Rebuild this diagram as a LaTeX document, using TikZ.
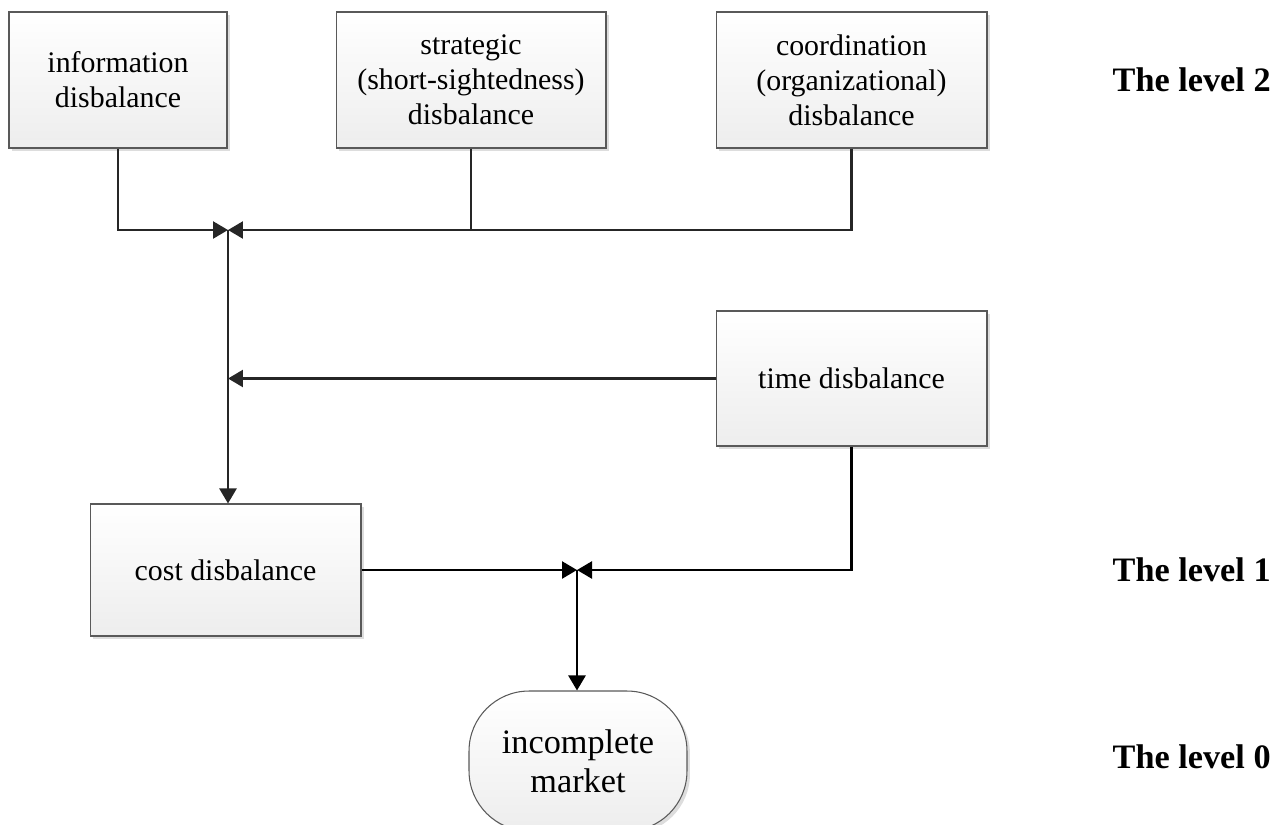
\documentclass[tikz,border=0pt]{standalone}
\usepackage{fontspec}
\setmainfont{Liberation Serif}
\usepackage{tikz}
\usetikzlibrary{arrows.meta,shadows}

\begin{document}
\begin{tikzpicture}[x=0.02cm,y=-0.02cm]
\tikzstyle box=[draw=gray!70!black, line width=0.6pt, top color=white, bottom color=gray!14,
  drop shadow={shadow xshift=0.06cm, shadow yshift=-0.06cm, fill=gray!45, opacity=0.6},
  align=center, font=\fontsize{17}{20}\selectfont, inner sep=2pt]
\tikzstyle link=[line width=1.4pt, gray!30!black, >={Triangle[length=0.3cm,width=0.34cm]}]
\tikzstyle flow=[line width=1.4pt, black, >={Triangle[length=0.3cm,width=0.34cm]}]
\tikzstyle lvl=[anchor=east, inner sep=0pt, font=\fontsize{19.5}{22}\selectfont\bfseries]

\useasboundingbox (0,0) rectangle (1282,825);

% level 2
\node[box, minimum width=4.36cm, minimum height=2.72cm] (info) at (118,80) {information\\disbalance};
\node[box, minimum width=5.4cm, minimum height=2.72cm] (strat) at (471,80) {strategic\\(short-sightedness)\\disbalance};
\node[box, minimum width=5.42cm, minimum height=2.72cm] (coord) at (851.5,80) {coordination\\(organizational)\\disbalance};

% level 1
\node[box, minimum width=5.42cm, minimum height=2.7cm] (time) at (851.5,378.5) {time disbalance};
\node[box, minimum width=5.42cm, minimum height=2.64cm] (cost) at (225.5,570) {cost disbalance};

% level 0
\node[box, rounded corners=1.2cm, minimum width=4.36cm, minimum height=2.8cm,
  font=\fontsize{19.5}{22}\selectfont] (market) at (578,761) {incomplete\\market};

\coordinate (j1) at (228,230);
\coordinate (j3) at (577,570);

\draw[link,->] (info.south) |- (j1);
\draw[link,->] (coord.south) |- (j1);
\draw[link] (strat.south) -- (strat.south |- j1);
\draw[link,->] (j1) -- (j1 |- cost.north);
\draw[link,->] (time.west) -- (time.west -| j1);

\draw[flow,->] (cost.east) -- (j3);
\draw[flow,->] (time.south) |- (j3);
\draw[flow,->] (j3) -- (j3 |- market.north);

\node[lvl] (lvltwo) at (1271,80) {The level 2};
\node[lvl] (lvlone) at (1271,570) {The level 1};
\node[lvl] (lvlzero) at (1271,757) {The level 0};
\end{tikzpicture}
\end{document}
